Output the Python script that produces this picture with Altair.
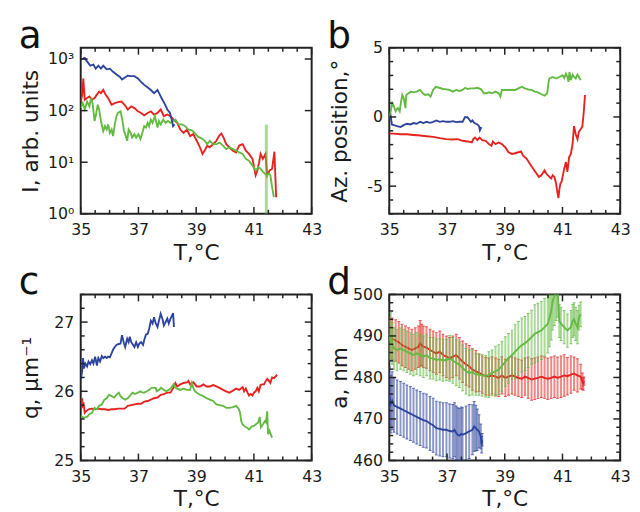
import altair as alt
import pandas as pd

# ---------------- data ----------------
# panel a : intensity (log)
TA_BLUE = [35.02,35.14,35.22,35.33,35.44,35.52,35.61,35.70,35.78,35.90,36.01,36.12,36.24,36.35,36.43,36.52,36.63,36.75,36.86,36.98,37.09,37.20,37.32,37.43,37.54,37.66,37.75,37.83,37.91,38.00,38.09,38.14,38.20,38.25]
IA_BLUE = [980,1050,900,740,780,650,740,650,740,630,650,565,500,455,400,435,475,465,465,420,360,315,280,250,218,250,200,162,135,105,90,72,50,54]
TA_RED = [35.00,35.05,35.09,35.14,35.22,35.30,35.39,35.48,35.56,35.64,35.70,35.78,35.86,35.95,36.07,36.18,36.29,36.41,36.52,36.63,36.75,36.86,36.98,37.09,37.20,37.32,37.43,37.54,37.66,37.77,37.88,38.00,38.11,38.22,38.34,38.45,38.56,38.68,38.79,38.90,39.02,39.13,39.22,39.30,39.38,39.47,39.59,39.70,39.79,39.87,39.95,40.04,40.15,40.27,40.38,40.49,40.61,40.72,40.83,40.95,41.06,41.12,41.18,41.23,41.31,41.40,41.46,41.54,41.63,41.71,41.77]
IA_RED = [150,200,420,162,175,187,162,175,204,234,218,252,204,175,130,140,146,150,130,105,121,112,97,90,81,90,97,84,90,105,78,84,78,67,58,43,37,43,32,35,26,19.5,14.5,17,21,19.5,22.4,26,32,36,30,22.4,19.5,16.7,15.5,21,22.4,16.7,14.5,11.6,5.6,6.9,10,14.5,11.6,14.5,5.6,6.9,7.5,16,2.1]
TA_GREEN = [35.00,35.07,35.14,35.22,35.30,35.36,35.41,35.48,35.52,35.59,35.64,35.70,35.78,35.84,35.90,35.95,36.01,36.07,36.12,36.18,36.24,36.29,36.38,36.44,36.50,36.54,36.61,36.66,36.73,36.78,36.86,36.92,37.00,37.07,37.15,37.20,37.26,37.32,37.37,37.43,37.49,37.57,37.66,37.71,37.77,37.86,37.94,38.02,38.11,38.20,38.28,38.39,38.51,38.62,38.73,38.85,38.96,39.07,39.19,39.30,39.38,39.47,39.59,39.70,39.81,39.93,40.04,40.15,40.27,40.38,40.49,40.61,40.72,40.83,40.95,41.06,41.15,41.23,41.31,41.38,41.46,41.52,41.57,41.63,41.69]
IA_GREEN = [112,140,105,150,121,175,140,63,78,130,105,63,40,50,43,54,37,43,32,54,78,90,97,67,40,35,26,43,37,30,35,30,35,28,40,50,47,58,50,67,58,78,47,63,54,67,58,63,58,63,67,54,54,50,43,41.5,36,31,29,26,22.4,26,22.4,22.4,24,21,18,19.5,18,16.7,15.5,14.5,11.6,10.7,8.6,6.9,8,7.5,6.5,6,5.6,6,5.6,3.3,2.1]
TA_GREEN_BAR = [41.43]
IA_GREEN_LO = [0.5]
IA_GREEN_HI = [54]

# panel b : azimuthal position
TB_GREEN = [35.00,35.05,35.10,35.16,35.22,35.25,35.30,35.36,35.41,35.45,35.50,35.56,35.59,35.67,35.75,35.84,35.95,36.07,36.16,36.24,36.35,36.43,36.52,36.61,36.73,36.86,36.98,37.09,37.20,37.32,37.43,37.54,37.63,37.71,37.83,37.94,38.05,38.17,38.28,38.36,38.45,38.56,38.68,38.79,38.85,38.90,39.02,39.13,39.25,39.36,39.47,39.59,39.70,39.81,39.93,40.04,40.15,40.27,40.38,40.47,40.52,40.55,40.66,40.78,40.89,41.00,41.06,41.12,41.17,41.21,41.24,41.29,41.35,41.40,41.46,41.52,41.57,41.63]
AZ_GREEN = [-0.02,0.41,1.0,0.76,0.41,0.53,0.64,0.41,1.12,1.59,1.36,0.64,1.59,1.71,1.83,1.78,1.83,1.95,1.71,1.59,1.64,1.47,1.95,2.18,2.11,2.02,1.99,1.95,1.83,1.95,1.88,1.95,2.11,2.02,2.07,2.07,2.11,2.02,1.71,1.71,1.78,1.71,1.83,1.71,1.47,1.95,1.95,1.95,1.95,1.95,2.07,2.18,2.07,1.99,1.95,1.83,1.78,1.64,1.54,1.71,2.54,2.78,2.89,2.78,2.89,3.01,2.82,3.13,2.89,2.54,3.25,2.66,3.06,2.89,2.78,3.06,2.89,2.66]
TB_BLUE = [35.00,35.05,35.09,35.16,35.27,35.39,35.50,35.61,35.73,35.84,35.95,36.07,36.18,36.29,36.41,36.52,36.63,36.75,36.86,36.98,37.09,37.20,37.32,37.43,37.54,37.62,37.71,37.77,37.83,37.88,37.94,38.00,38.05,38.11,38.14,38.19]
AZ_BLUE = [-0.18,0.05,-0.54,-0.59,-0.66,-0.73,-0.59,-0.49,-0.54,-0.44,-0.49,-0.35,-0.44,-0.35,-0.42,-0.35,-0.25,-0.35,-0.30,-0.35,-0.35,-0.30,-0.37,-0.35,-0.35,-0.02,-0.02,-0.18,-0.35,-0.25,-0.42,-0.49,-0.54,-0.66,-0.96,-0.73]
TB_RED = [35.00,35.16,35.39,35.61,35.84,36.07,36.29,36.52,36.75,36.98,37.20,37.37,37.54,37.71,37.86,37.91,37.97,38.05,38.13,38.22,38.34,38.45,38.54,38.59,38.68,38.79,38.90,39.02,39.13,39.25,39.36,39.47,39.56,39.64,39.76,39.87,39.98,40.10,40.18,40.27,40.38,40.44,40.49,40.55,40.61,40.66,40.72,40.78,40.81,40.86,40.89,40.93,40.97,41.06,41.12,41.17,41.23,41.29,41.35,41.40,41.46,41.52,41.57,41.63,41.69,41.74,41.78]
AZ_RED = [-1.20,-1.20,-1.25,-1.25,-1.30,-1.34,-1.39,-1.44,-1.53,-1.60,-1.63,-1.60,-1.72,-1.77,-1.84,-1.60,-1.49,-1.67,-1.49,-1.67,-1.72,-1.96,-2.08,-1.77,-1.96,-1.84,-1.96,-2.20,-2.55,-2.67,-2.62,-2.55,-2.48,-2.79,-3.02,-3.38,-3.73,-4.09,-4.33,-4.21,-3.85,-4.09,-4.21,-4.33,-4.44,-4.21,-4.33,-4.80,-5.27,-5.86,-5.27,-4.80,-4.68,-3.73,-3.26,-3.97,-2.91,-2.67,-1.96,-0.66,-1.25,-1.60,-1.06,-0.89,-0.66,0.41,1.59]

# panel c : q
TC_BLUE = [35.00,35.05,35.08,35.11,35.16,35.22,35.27,35.33,35.39,35.44,35.50,35.56,35.61,35.67,35.73,35.78,35.84,35.90,35.95,36.01,36.07,36.12,36.18,36.24,36.29,36.38,36.43,36.50,36.54,36.61,36.66,36.70,36.75,36.80,36.86,36.92,36.98,37.03,37.09,37.16,37.20,37.26,37.32,37.37,37.43,37.49,37.54,37.60,37.66,37.71,37.77,37.83,37.88,37.94,38.00,38.05,38.11,38.17,38.20,38.23]
Q_BLUE = [26.17,26.29,26.48,26.33,26.40,26.36,26.43,26.39,26.45,26.40,26.50,26.37,26.48,26.43,26.51,26.48,26.50,26.48,26.50,26.49,26.55,26.60,26.64,26.67,26.68,26.69,26.81,26.69,26.64,26.76,26.71,26.79,26.71,26.68,26.64,26.71,26.64,26.69,26.71,26.67,26.74,26.82,26.83,26.90,27.02,26.98,27.07,26.98,26.93,27.02,27.12,27.05,26.95,27.00,27.05,26.98,27.05,27.10,27.13,26.93]
TC_RED = [35.00,35.05,35.07,35.10,35.14,35.18,35.27,35.39,35.50,35.61,35.73,35.84,35.95,36.07,36.18,36.29,36.41,36.52,36.63,36.75,36.86,36.98,37.09,37.20,37.32,37.43,37.54,37.66,37.77,37.88,38.00,38.11,38.22,38.28,38.34,38.45,38.56,38.68,38.73,38.79,38.90,39.02,39.13,39.25,39.36,39.47,39.59,39.70,39.81,39.93,40.04,40.15,40.27,40.38,40.49,40.61,40.66,40.72,40.78,40.83,40.89,40.95,41.00,41.06,41.12,41.17,41.23,41.29,41.35,41.40,41.46,41.52,41.57,41.63,41.69,41.74,41.80]
Q_RED = [25.86,25.88,25.79,25.81,25.69,25.71,25.74,25.75,25.74,25.75,25.74,25.74,25.73,25.74,25.74,25.75,25.75,25.75,25.79,25.80,25.81,25.82,25.82,25.85,25.86,25.88,25.90,25.91,25.95,25.96,25.98,25.98,26.06,26.12,26.07,26.10,26.12,26.13,26.15,26.10,26.13,26.07,26.07,26.10,26.07,26.07,26.09,26.07,26.05,26.02,26.00,25.98,26.01,26.04,26.02,26.06,26.00,26.04,25.98,25.94,25.96,25.94,25.98,26.00,26.05,26.00,26.09,26.10,26.10,26.14,26.18,26.15,26.12,26.20,26.19,26.21,26.24]
TC_GREEN = [35.00,35.10,35.22,35.30,35.39,35.48,35.56,35.64,35.73,35.82,35.90,35.98,36.07,36.16,36.24,36.32,36.38,36.46,36.54,36.63,36.73,36.80,36.88,36.98,37.07,37.15,37.20,37.29,37.37,37.45,37.52,37.60,37.63,37.71,37.79,37.88,37.97,38.05,38.13,38.22,38.28,38.34,38.45,38.56,38.68,38.79,38.85,38.90,38.96,39.02,39.13,39.25,39.36,39.47,39.59,39.70,39.81,39.93,40.04,40.15,40.27,40.38,40.47,40.52,40.56,40.61,40.66,40.72,40.78,40.83,40.92,41.00,41.06,41.15,41.20,41.24,41.31,41.38,41.42,41.46,41.49,41.54,41.58,41.63]
Q_GREEN = [25.64,25.62,25.63,25.67,25.69,25.76,25.74,25.79,25.81,25.88,25.90,25.95,25.93,25.91,25.95,25.98,25.93,25.90,25.88,25.90,25.95,25.98,25.96,25.98,26.00,25.98,25.98,26.00,26.02,26.05,26.05,26.05,26.00,26.02,26.05,26.02,26.00,26.02,26.05,26.10,26.05,26.04,26.02,26.04,26.02,26.02,26.12,26.05,26.00,25.98,25.95,25.93,25.90,25.88,25.86,25.81,25.80,25.79,25.76,25.76,25.77,25.79,25.75,25.69,25.57,25.52,25.50,25.48,25.47,25.45,25.49,25.50,25.52,25.55,25.63,25.48,25.52,25.57,25.55,25.71,25.38,25.43,25.38,25.33]

# panel d : lattice constant with error bars
TD_RED = [35.00,35.10,35.22,35.33,35.44,35.56,35.67,35.78,35.90,36.01,36.07,36.12,36.18,36.29,36.41,36.52,36.63,36.75,36.86,36.98,37.09,37.20,37.32,37.43,37.54,37.66,37.77,37.88,38.00,38.11,38.22,38.34,38.45,38.56,38.68,38.79,38.90,39.02,39.13,39.25,39.36,39.47,39.59,39.70,39.81,39.93,40.04,40.15,40.27,40.38,40.49,40.61,40.72,40.83,40.95,41.06,41.17,41.29,41.40,41.52,41.63,41.69,41.72,41.74]
A_RED = [489.7,489.3,488.9,488.5,487.8,487.4,487.0,486.6,487.0,487.4,488.2,487.8,487.4,487.2,486.6,486.2,485.8,486.2,485.4,485.0,484.6,485.0,485.4,484.6,483.8,483.1,482.7,481.9,481.5,481.1,480.7,480.3,480.2,480.5,480.2,479.9,480.5,479.9,480.2,480.5,480.2,479.9,479.7,480.2,479.9,479.5,479.7,479.9,480.2,479.9,479.7,479.9,480.2,479.9,480.2,480.5,480.3,480.7,480.9,480.5,480.2,479.1,478.4,479.1]
E_RED = [5,5,5,5,5,5,5,5,5,5,5.5,5,5,5,5,5,5,5,5,5,5,5,5,5,5,5,5,5,5,4.5,4.5,4.5,4.5,4.5,4.5,4.5,4.5,4.5,4.5,4.5,4.5,4.5,4.5,4.5,5,5,5,5,5,5,5,5,5,5,5,5,4.5,4.5,4,4,3,2,1.5,1]
TD_GREEN = [35.00,35.05,35.10,35.16,35.27,35.39,35.50,35.61,35.73,35.84,35.95,36.07,36.18,36.29,36.41,36.52,36.63,36.75,36.86,36.98,37.09,37.20,37.32,37.43,37.54,37.66,37.77,37.88,38.00,38.11,38.22,38.34,38.45,38.56,38.68,38.79,38.90,39.02,39.13,39.25,39.36,39.47,39.59,39.70,39.81,39.93,40.04,40.15,40.27,40.38,40.49,40.55,40.61,40.66,40.72,40.78,40.83,40.89,40.95,41.06,41.17,41.29,41.35,41.40,41.46,41.52,41.57,41.63]
A_GREEN = [488.9,490.1,488.2,487.0,486.6,487.0,486.6,486.2,485.8,485.4,485.8,485.4,485.0,485.4,484.6,484.6,484.2,484.4,484.1,484.2,484.6,484.1,483.5,483.1,482.3,481.5,481.1,481.3,480.7,480.7,480.5,480.3,480.7,481.1,481.5,481.9,482.7,483.8,484.6,485.4,486.2,487.0,487.8,488.2,488.9,489.7,490.5,490.9,491.3,492.1,492.9,494.4,496.0,498.4,499.5,500.7,501.5,493.6,492.9,492.1,491.3,492.1,493.6,494.0,492.9,492.1,494.4,495.2]
E_GREEN = [5,5.5,5,5,5,5,5,5,5,5,5,5,5,5,5,5,5,5,5,5,5.5,5.5,5.5,5.5,5.5,5.5,5.5,5.5,5,5,5,5,5.5,5.5,6,6,6,6,6,6,6.5,6.5,6.5,6.5,6.5,6.5,7,7,7,7,7,7,7,7,7,7,7,4,4,4,4,4,4,4,4,4,3,3]
TD_BLUE = [35.00,35.05,35.10,35.16,35.27,35.39,35.50,35.61,35.73,35.84,35.95,36.07,36.18,36.29,36.41,36.52,36.63,36.75,36.86,36.98,37.09,37.20,37.26,37.32,37.37,37.43,37.49,37.54,37.66,37.77,37.88,37.94,38.00,38.05,38.11,38.17,38.20,38.22]
A_BLUE = [475.6,473.6,474.4,473.3,472.9,472.5,472.1,471.7,471.3,470.9,470.5,470.1,469.7,469.5,468.9,468.5,467.8,467.6,467.4,467.4,467.1,467.0,467.4,466.6,466.2,466.0,466.4,466.2,466.6,467.0,467.4,468.2,467.8,467.4,467.0,465.8,463.8,465.0]
E_BLUE = [7,7,7,6.5,6.5,6.5,6.5,6.5,6.5,6.5,6.5,6.5,6.5,6.5,6.5,6.5,6.5,6.5,6.5,6.5,6.5,6.5,6.5,6.5,6.5,6.5,6.5,6.5,6.5,6.5,6,6,5.5,5,4,3,2,1.5]

# axis ticks / labels
X_RANGE = [35, 43]
X_MAJOR = [35, 37, 39, 41, 43]
X_MINOR = [35.5, 36, 36.5, 37.5, 38, 38.5, 39.5, 40, 40.5, 41.5, 42, 42.5]
YA_RANGE = [1, 1650]
YA_MAJOR = [1, 10, 100, 1000]
YB_RANGE = [-7, 5]
YB_MAJOR = [-5, 0, 5]
YB_MINOR = [-7, -6, -4, -3, -2, -1, 1, 2, 3, 4]
YC_RANGE = [25, 27.4]
YC_MAJOR = [25, 26, 27]
YC_MINOR = [25.2, 25.4, 25.6, 25.8, 26.2, 26.4, 26.6, 26.8, 27.2, 27.4]
YD_RANGE = [460, 500]
YD_MAJOR = [460, 470, 480, 490, 500]
YD_MINOR = [462, 464, 466, 468, 472, 474, 476, 478, 482, 484, 486, 488, 492, 494, 496, 498]
LETTERS = ["a", "b", "c", "d"]
X_TITLE = "T,°C"
Y_TITLES = ["I, arb. units", "Az. position,°", "q, μm⁻¹", "a, nm"]

# ---------------- style ----------------
RED, GREEN, BLUE = "#e5221e", "#64b943", "#2c449d"
FRAME = "#222222"
TEXT = "#1a1a1a"
W, H = 235, 169
MAJ, MIN = 7, 4

XS = alt.Scale(domain=X_RANGE, nice=False, zero=False)
XA = alt.Axis(title=X_TITLE, values=X_MAJOR, ticks=False, domain=False, grid=False,
              labelPadding=8, titlePadding=5, labelFlush=False, format="d")


def y_axis(title, values, expr):
    return alt.Axis(title=title, values=values, ticks=False, domain=False, grid=False,
                    labelPadding=7, labelFlush=False, labelExpr=expr,
                    minExtent=36, maxExtent=36, titlePadding=8, titleBaseline="alphabetic")


class Panel:
    def __init__(self, yscale, yaxis):
        self.ys = yscale
        self.ya = yaxis

    def X(self, f):
        return alt.X(f, scale=XS, axis=XA)

    def Y(self, f):
        return alt.Y(f, scale=self.ys, axis=self.ya)

    def ticks(self, y_major, y_minor):
        out = []
        for vals, L in ((X_MAJOR, MAJ), (X_MINOR, MIN)):
            base = alt.Chart(pd.DataFrame({"t": vals})).mark_rule(color=FRAME, strokeWidth=1.5)
            out.append(base.encode(x=self.X("t:Q"), y=alt.value(H), y2=alt.value(H - L)))
            out.append(base.encode(x=self.X("t:Q"), y=alt.value(0), y2=alt.value(L)))
        for vals, L in ((y_major, MAJ), (y_minor, MIN)):
            if not vals:
                continue
            base = alt.Chart(pd.DataFrame({"t": vals})).mark_rule(color=FRAME, strokeWidth=1.5)
            out.append(base.encode(y=self.Y("t:Q"), x=alt.value(0), x2=alt.value(L)))
            out.append(base.encode(y=self.Y("t:Q"), x=alt.value(W), x2=alt.value(W - L)))
        return out

    def line(self, T, V, color):
        df = pd.DataFrame({"T": T, "v": V})
        return alt.Chart(df).mark_line(color=color, strokeWidth=1.9, clip=True).encode(
            x=self.X("T:Q"), y=self.Y("v:Q"))

    def errbars(self, T, V, E, color):
        df = pd.DataFrame({"T": T, "lo": [v - e for v, e in zip(V, E)],
                           "hi": [v + e for v, e in zip(V, E)]})
        rules = alt.Chart(df).mark_rule(color=color, strokeWidth=2, opacity=0.55, clip=True).encode(
            x=self.X("T:Q"), y=self.Y("lo:Q"), y2="hi:Q")
        caps = []
        for f in ("lo:Q", "hi:Q"):
            caps.append(alt.Chart(df).mark_tick(color=color, orient="horizontal", size=3, thickness=1,
                                                opacity=0.7, clip=True).encode(x=self.X("T:Q"), y=self.Y(f)))
        return [rules] + caps


def letter_layer(letter):
    return alt.Chart(pd.DataFrame({"letter": [letter]})).mark_text(
        fontSize=38, align="left", baseline="alphabetic", color="#111111"
    ).encode(x=alt.value(-63), y=alt.value(0), text="letter:N")


# ---------------- panel a ----------------
expr_a = ("datum.value == 1 ? '10⁰' : datum.value == 10 ? '10¹' : "
          "datum.value == 100 ? '10²' : '10³'")
pa = Panel(alt.Scale(type="log", domain=YA_RANGE, nice=False), y_axis(Y_TITLES[0], YA_MAJOR, expr_a))
bar_a = alt.Chart(pd.DataFrame({"T": TA_GREEN_BAR, "lo": IA_GREEN_LO, "hi": IA_GREEN_HI})).mark_rule(
    color=GREEN, strokeWidth=3, opacity=0.55, clip=True).encode(
    x=pa.X("T:Q"), y=pa.Y("lo:Q"), y2="hi:Q")
anchor = alt.Chart(pd.DataFrame({"k": [0]})).mark_rule(color="white", strokeWidth=0.5).encode(
    x=alt.value(-72), x2=alt.value(-72), y=alt.value(-34), y2=alt.value(-33))
panel_a = alt.layer(
    pa.line(TA_RED, IA_RED, RED),
    bar_a,
    pa.line(TA_GREEN, IA_GREEN, GREEN),
    pa.line(TA_BLUE, IA_BLUE, BLUE),
    *pa.ticks(YA_MAJOR, []),
    letter_layer(LETTERS[0]),
    anchor,
).properties(width=W, height=H)

# ---------------- panel b ----------------
pb = Panel(alt.Scale(domain=YB_RANGE, nice=False, zero=False), y_axis(Y_TITLES[1], YB_MAJOR, "'' + datum.value"))
panel_b = alt.layer(
    pb.line(TB_RED, AZ_RED, RED),
    pb.line(TB_GREEN, AZ_GREEN, GREEN),
    pb.line(TB_BLUE, AZ_BLUE, BLUE),
    *pb.ticks(YB_MAJOR, YB_MINOR),
    letter_layer(LETTERS[1]),
).properties(width=W, height=H)

# ---------------- panel c ----------------
pc = Panel(alt.Scale(domain=YC_RANGE, nice=False, zero=False), y_axis(Y_TITLES[2], YC_MAJOR, "'' + datum.value"))
panel_c = alt.layer(
    pc.line(TC_RED, Q_RED, RED),
    pc.line(TC_GREEN, Q_GREEN, GREEN),
    pc.line(TC_BLUE, Q_BLUE, BLUE),
    *pc.ticks(YC_MAJOR, YC_MINOR),
    letter_layer(LETTERS[2]),
).properties(width=W, height=H)

# ---------------- panel d ----------------
pd_ = Panel(alt.Scale(domain=YD_RANGE, nice=False, zero=False), y_axis(Y_TITLES[3], YD_MAJOR, "'' + datum.value"))
panel_d = alt.layer(
    *pd_.errbars(TD_RED, A_RED, E_RED, RED),
    pd_.line(TD_RED, A_RED, RED),
    *pd_.errbars(TD_GREEN, A_GREEN, E_GREEN, GREEN),
    pd_.line(TD_GREEN, A_GREEN, GREEN),
    *pd_.errbars(TD_BLUE, A_BLUE, E_BLUE, BLUE),
    pd_.line(TD_BLUE, A_BLUE, BLUE),
    *pd_.ticks(YD_MAJOR, YD_MINOR),
    letter_layer(LETTERS[3]),
).properties(width=W, height=H)

chart = alt.concat(
    panel_a, panel_b, panel_c, panel_d,
    columns=2, spacing={"row": 82, "column": 79}, bounds="flush",
).properties(padding=0).configure(font="DejaVu Sans").configure_view(
    stroke=FRAME, strokeWidth=2
).configure_axis(
    labelFontSize=16, titleFontSize=22, titleFontWeight="normal",
    labelColor=TEXT, titleColor=TEXT, labelFont="DejaVu Sans", titleFont="DejaVu Sans"
)

chart.save("out.html", embed_options={"renderer": "svg", "actions": False})
